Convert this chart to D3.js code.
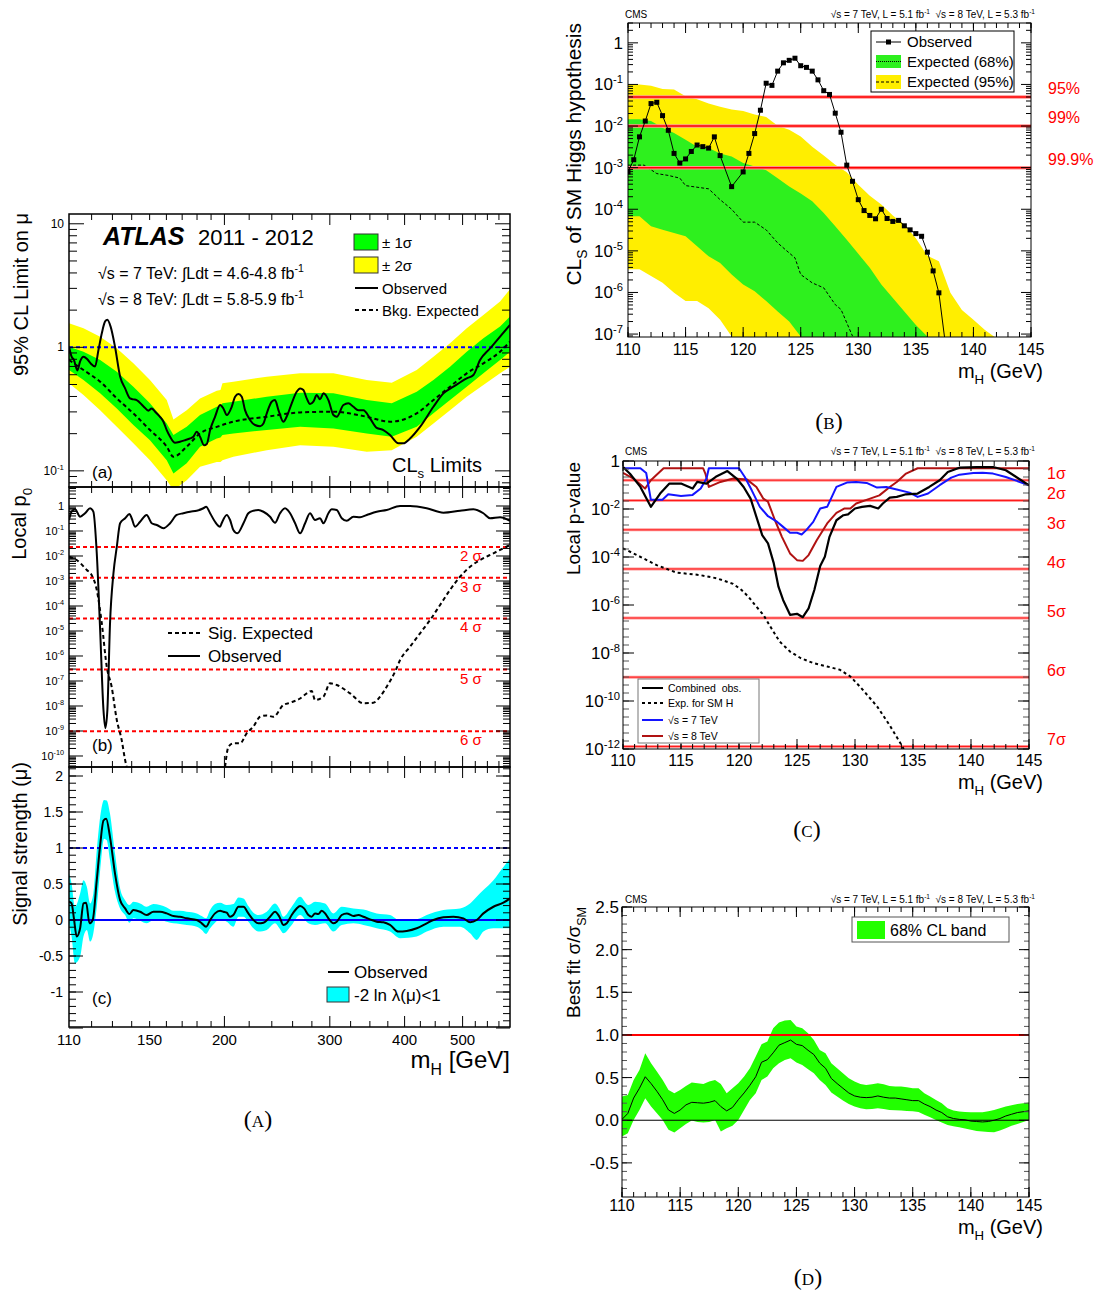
<!DOCTYPE html>
<html>
<head>
<meta charset="utf-8">
<script src="https://cdn.jsdelivr.net/npm/d3@7"></script>
<style>
  body { margin: 0; background: #fff; }
  text { font-family: "Liberation Sans", Arial, Helvetica, sans-serif; white-space: pre; }
  .cap { font-family: "Liberation Serif", "DejaVu Serif", serif; font-variant: small-caps; }
</style>
</head>
<body>
<svg id="fig" width="1099" height="1293"></svg>
<script>

// ---------------- ATLAS (a): 95% CL limit on mu ----------------
var atlasLimMass = [110, 111.1, 112.1, 113.6, 114.8, 116.3, 118.0, 119.6, 121.6, 123.2, 124.8, 126.4, 127.5, 129.1, 131.3, 133.9, 136.5, 139.1, 140.9, 142.7, 146.4, 149.3, 151.2, 153.2, 156.1, 158.2, 160.2, 162.3, 165.4, 168.6, 171.9, 175.3, 177.5, 179.8, 182.1, 184.9, 186.9, 189.3, 192.9, 196.7, 199.2, 201.8, 205.7, 208.4, 211.1, 213.8, 216.5, 220.8, 225.0, 229.4, 232.4, 235.4, 239.9, 243.0, 246.2, 250.9, 254.8, 259.1, 264.1, 267.6, 271.0, 274.5, 278.0, 281.6, 285.3, 288.9, 292.7, 298.4, 304.2, 308.1, 316.1, 322.2, 328.5, 334.8, 341.4, 350.2, 359.3, 368.7, 378.2, 390.5, 398.1, 408.5, 424.5, 446.9, 464.4, 482.6, 508.0, 521.2, 534.7, 555.7, 577.5, 600];
var atlasLimObs = [1.01, 0.84, 0.79, 0.65, 0.77, 0.84, 0.80, 0.74, 0.70, 0.95, 1.30, 1.62, 1.67, 1.47, 1.01, 0.58, 0.465, 0.386, 0.379, 0.374, 0.334, 0.307, 0.320, 0.301, 0.274, 0.250, 0.214, 0.189, 0.169, 0.172, 0.177, 0.183, 0.189, 0.207, 0.189, 0.161, 0.165, 0.214, 0.274, 0.341, 0.320, 0.283, 0.330, 0.398, 0.418, 0.398, 0.310, 0.257, 0.235, 0.230, 0.242, 0.292, 0.363, 0.374, 0.310, 0.250, 0.283, 0.352, 0.437, 0.465, 0.451, 0.386, 0.347, 0.363, 0.411, 0.379, 0.424, 0.374, 0.283, 0.274, 0.341, 0.352, 0.330, 0.310, 0.310, 0.266, 0.223, 0.214, 0.195, 0.167, 0.167, 0.183, 0.227, 0.330, 0.424, 0.480, 0.561, 0.597, 0.789, 0.981, 1.22, 1.52];
var atlasExpMass = [110, 116.3, 124.0, 132.2, 140.9, 150.2, 160.2, 164.4, 173.0, 182.1, 194.2, 207.0, 235.4, 267.6, 304.2, 345.8, 378.2, 419.1, 446.9, 476.4, 508.0, 541.6, 577.5, 600];
var atlasExpMed = [0.789, 0.655, 0.527, 0.386, 0.292, 0.214, 0.157, 0.130, 0.157, 0.201, 0.227, 0.250, 0.274, 0.297, 0.301, 0.274, 0.250, 0.292, 0.374, 0.480, 0.616, 0.742, 0.922, 1.111];
var atlasBandMass = [110, 116.3, 124.0, 132.2, 140.9, 150.2, 160.2, 164.4, 173.0, 182.1, 194.2, 197.0, 198.5, 207.0, 235.4, 267.6, 304.2, 345.8, 380.7, 419.1, 446.9, 476.4, 508.0, 541.6, 577.5, 600];
var atlasBand2Hi = [1.565, 1.426, 1.220, 0.981, 0.742, 0.543, 0.374, 0.261, 0.310, 0.386, 0.445, 0.451, 0.511, 0.527, 0.578, 0.616, 0.616, 0.543, 0.517, 0.655, 0.840, 1.078, 1.426, 1.829, 2.346, 2.953];
var atlasBand2Lo = [0.511, 0.411, 0.310, 0.227, 0.167, 0.122, 0.084, 0.0697, 0.084, 0.108, 0.118, 0.118, 0.122, 0.130, 0.147, 0.161, 0.157, 0.143, 0.147, 0.189, 0.242, 0.310, 0.398, 0.495, 0.616, 0.697];
var atlasBand1Hi = [1.012, 0.922, 0.789, 0.635, 0.480, 0.352, 0.242, 0.195, 0.227, 0.283, 0.330, 0.334, 0.352, 0.363, 0.398, 0.429, 0.424, 0.374, 0.352, 0.437, 0.543, 0.697, 0.922, 1.183, 1.471, 1.773];
var atlasBand1Lo = [0.655, 0.543, 0.424, 0.320, 0.235, 0.177, 0.122, 0.095, 0.115, 0.157, 0.183, 0.186, 0.195, 0.201, 0.214, 0.227, 0.220, 0.201, 0.189, 0.227, 0.292, 0.374, 0.480, 0.616, 0.789, 0.922];

// ---------------- ATLAS (b): local p0 ----------------
var atlasP0Mass = [110, 111.1, 112.6, 114.8, 117.0, 119.3, 120.8, 122.4, 124.0, 125.6, 126.5, 127.5, 128.8, 130.5, 132.2, 133.9, 136.5, 138.8, 140.0, 141.8, 144.6, 148.3, 151.2, 154.2, 158.2, 162.3, 166.5, 170.8, 175.3, 179.8, 184.5, 186.4, 189.3, 192.9, 196.7, 197.9, 201.8, 204.4, 207.0, 210.2, 215.2, 219.3, 223.6, 227.9, 232.4, 238.4, 243.0, 247.7, 252.5, 257.5, 262.5, 267.6, 272.8, 278.0, 283.4, 288.9, 292.7, 298.4, 302.2, 308.1, 314.1, 320.2, 328.5, 337.0, 345.8, 359.3, 373.4, 393.1, 408.5, 435.5, 464.4, 495.1, 521.2, 541.6, 555.7, 577.5, 600];
var atlasP0Obs = [0.275, 0.593, 0.736, 0.374, 0.509, 0.807, 0.593, 0.0128, 1.1e-5, 6.9e-9, 1.3e-9, 6.9e-9, 2.0e-5, 2.0e-3, 0.023, 0.204, 0.324, 0.479, 0.324, 0.148, 0.234, 0.437, 0.204, 0.174, 0.129, 0.204, 0.437, 0.513, 0.589, 0.646, 0.813, 0.933, 0.513, 0.234, 0.148, 0.204, 0.437, 0.275, 0.110, 0.081, 0.204, 0.513, 0.646, 0.692, 0.589, 0.372, 0.214, 0.513, 0.813, 0.513, 0.204, 0.081, 0.204, 0.513, 0.275, 0.324, 0.204, 0.513, 0.741, 0.692, 0.324, 0.257, 0.372, 0.355, 0.437, 0.589, 0.692, 1.0, 1.0, 0.813, 0.537, 0.646, 0.741, 0.513, 0.324, 0.355, 0.257];
var atlasP0ExpMass = [110, 113.3, 117.8, 120.0, 122.4, 124.8, 127.2, 129.6, 132.2, 134.7, 136.5, 137.3, 170, 200.5, 203.1, 207.0, 212.4, 217.9, 223.6, 229.4, 235.4, 241.5, 250.9, 257.5, 267.6, 274.5, 279.8, 283.4, 292.7, 300.3, 308.1, 324.3, 341.4, 354.7, 364.0, 373.4, 385.6, 393.1, 408.5, 424.5, 441.2, 458.5, 476.4, 495.1, 514.6, 534.7, 562.9, 585.0, 600];
var atlasP0Exp = [9.3e-3, 6.9e-3, 2.75e-3, 1.74e-3, 4.4e-4, 2.0e-5, 3.7e-7, 5.9e-8, 2.75e-9, 4.4e-10, 6.9e-11, 3.7e-11, null, 3.7e-11, 2.3e-10, 3.2e-10, 3.2e-10, 8.1e-10, 1.5e-9, 3.7e-9, 4.2e-9, 3.7e-9, 1.1e-8, 1.35e-8, 2.0e-8, 3.2e-8, 4.0e-8, 1.74e-8, 2.35e-8, 8.1e-8, 6.9e-8, 3.2e-8, 1.29e-8, 1.35e-8, 2.35e-8, 5.9e-8, 2.35e-7, 6.9e-7, 2.35e-6, 8.1e-6, 2.75e-5, 1.1e-4, 4.4e-4, 1.48e-3, 3.7e-3, 6.9e-3, 0.0128, 0.0204, 0.0275];
var atlasSigmaP = [0.02275, 1.35e-3, 3.17e-5, 2.87e-7, 9.87e-10];
var atlasSigmaLabels = ["2 σ", "3 σ", "4 σ", "5 σ", "6 σ"];

// ---------------- ATLAS (c): signal strength ----------------
var atlasMuMass = [110, 111.1, 112.1, 113.3, 114.8, 116.3, 117.5, 119.0, 120.5, 122.4, 124.0, 125.6, 126.9, 128.8, 131.3, 133.9, 136.5, 138.8, 140.9, 144.6, 148.3, 152.2, 156.1, 160.2, 164.4, 168.6, 173.0, 179.8, 183.3, 186.4, 189.3, 192.9, 196.7, 199.2, 201.8, 204.4, 207.0, 211.1, 215.2, 219.3, 223.6, 227.9, 232.4, 238.4, 243.0, 247.1, 250.9, 254.2, 259.1, 264.1, 267.6, 271.7, 276.3, 279.8, 283.4, 287.1, 290.8, 294.6, 298.4, 304.2, 308.1, 314.1, 320.2, 328.5, 334.8, 341.4, 350.2, 359.3, 368.7, 378.2, 390.5, 403.3, 419.1, 435.5, 446.9, 464.4, 482.6, 501.5, 514.6, 527.9, 541.6, 562.9, 585.0, 600];
var atlasMuObs = [0.253, 0.230, 0.023, -0.230, -0.115, 0.230, 0.240, -0.046, 0, 0.553, 1.037, 1.382, 1.406, 1.152, 0.645, 0.276, 0.161, 0.083, 0.138, 0.115, 0.069, 0.115, 0.115, 0.092, 0.055, 0.046, 0.023, 0, -0.046, -0.092, 0, 0.092, 0.129, 0.115, 0.101, 0.046, 0.069, 0.184, 0.184, 0.092, 0, -0.046, -0.037, 0.046, 0.115, 0.046, -0.069, -0.046, 0.069, 0.161, 0.194, 0.161, 0.069, 0.046, 0.092, 0.083, 0.129, 0.092, 0.023, -0.046, -0.023, 0.069, 0.092, 0.055, 0.069, 0.046, 0.009, -0.023, -0.032, -0.069, -0.161, -0.152, -0.115, -0.046, 0, 0.037, 0.046, 0.023, -0.032, 0, 0.092, 0.184, 0.240, 0.300];
var atlasMuBandMass = [110, 111.1, 112.6, 114.8, 116.3, 117.8, 119.3, 120.8, 122.4, 124.0, 125.9, 127.2, 128.8, 131.3, 133.9, 136.5, 138.8, 140.9, 144.6, 148.3, 152.2, 156.1, 160.2, 164.4, 168.6, 173.0, 179.8, 183.3, 186.4, 189.3, 192.9, 196.7, 201.8, 207.0, 211.1, 215.2, 219.3, 223.6, 227.9, 235.4, 243.0, 247.1, 250.9, 259.1, 267.6, 276.3, 283.4, 294.6, 304.2, 314.1, 328.5, 341.4, 359.3, 378.2, 393.1, 419.1, 435.5, 464.4, 495.1, 514.6, 527.9, 541.6, 562.9, 585.0, 600];
var atlasMuHi = [0.645, 0.507, 0.184, 0.369, 0.553, 0.461, 0.230, 0.369, 0.968, 1.429, 1.668, 1.659, 1.475, 0.922, 0.438, 0.276, 0.207, 0.253, 0.230, 0.184, 0.221, 0.207, 0.175, 0.129, 0.129, 0.115, 0.092, 0.055, 0.023, 0.138, 0.221, 0.240, 0.207, 0.221, 0.313, 0.300, 0.194, 0.101, 0.069, 0.115, 0.230, 0.161, 0.046, 0.184, 0.323, 0.207, 0.253, 0.230, 0.092, 0.184, 0.161, 0.147, 0.092, 0.069, -0.009, 0.009, 0.069, 0.138, 0.161, 0.230, 0.323, 0.415, 0.553, 0.737, 0.853];
var atlasMuLo = [-0.046, -0.230, -0.599, -0.507, -0.230, -0.138, -0.300, -0.184, 0.184, 0.691, 1.129, 1.106, 0.829, 0.392, 0.161, 0.069, -0.037, 0.023, -0.009, -0.046, 0, 0, -0.023, -0.046, -0.055, -0.069, -0.092, -0.138, -0.194, -0.115, -0.037, 0.009, -0.023, -0.092, 0.046, 0.046, -0.023, -0.115, -0.161, -0.138, -0.046, -0.115, -0.184, -0.069, 0.069, -0.046, -0.069, -0.046, -0.161, -0.069, -0.046, -0.069, -0.115, -0.161, -0.253, -0.230, -0.161, -0.092, -0.092, -0.184, -0.276, -0.161, -0.115, -0.115, -0.115];
var atlasMassTicks = [110, 150, 200, 300, 400, 500];

// ---------------- CMS (B): CLs of SM Higgs ----------------
var cmsClsMass = [110, 110.5, 111, 111.5, 112, 112.5, 113, 113.5, 114, 114.5, 115, 115.5, 116, 116.5, 117, 117.5, 118, 119, 120, 120.5, 121, 121.5, 122, 122.5, 123, 123.5, 124, 124.5, 125, 125.5, 126, 126.5, 127, 127.5, 128, 128.5, 129, 129.5, 130, 130.5, 131, 131.5, 132, 132.5, 133, 133.5, 134, 134.5, 135, 135.5, 136, 136.5, 137, 137.5];
var cmsClsObs = [7.9e-4, 1.55e-3, 5.5e-3, 0.0132, 0.0347, 0.0372, 0.0178, 7.9e-3, 2.2e-3, 1.29e-3, 1.62e-3, 2.45e-3, 3.5e-3, 3.2e-3, 2.95e-3, 5.5e-3, 1.95e-3, 3.5e-4, 7.9e-4, 2.2e-3, 6.6e-3, 0.024, 0.107, 0.095, 0.209, 0.331, 0.38, 0.427, 0.282, 0.257, 0.209, 0.129, 0.0708, 0.0575, 0.0204, 7.1e-3, 1.15e-3, 4.7e-4, 1.7e-4, 9.3e-5, 7.1e-5, 5.9e-5, 1.0e-4, 6.0e-5, 5.1e-5, 5.4e-5, 4.0e-5, 3.2e-5, 2.6e-5, 2.24e-5, 9.3e-6, 3.3e-6, 9.8e-7, 8e-8];
var cmsClsExpMass = [110, 111.4, 112.5, 113.5, 114.5, 115, 117, 118, 119, 120, 121, 122, 123, 124, 124.5, 125, 126, 127, 128, 128.5, 129.5];
var cmsClsExp = [1.15e-3, 1.15e-3, 7.2e-4, 6.5e-4, 5.6e-4, 3.7e-4, 3.1e-4, 1.7e-4, 1.0e-4, 4.9e-5, 4.9e-5, 3.2e-5, 1.55e-5, 8.9e-6, 6.8e-6, 2.7e-6, 1.7e-6, 1.29e-6, 5.1e-7, 3.9e-7, 8.9e-8];
var cmsBandMass = [110, 111, 112, 113, 114, 115, 116, 117, 118, 119, 120, 121, 122, 123, 124, 125, 126, 127, 128, 129, 130, 131, 132, 133, 134, 135, 136, 137, 138, 139, 140, 141, 142];
var cmsBand95Hi = [0.1, 0.1, 0.093, 0.078, 0.076, 0.052, 0.044, 0.035, 0.029, 0.025, 0.023, 0.019, 0.0166, 0.0102, 8.1e-3, 5.6e-3, 3.2e-3, 1.95e-3, 1.17e-3, 7.8e-4, 3.9e-4, 2.1e-4, 1.3e-4, 7.1e-5, 4.3e-5, 2.0e-5, 7.6e-6, 5.6e-6, 9.8e-7, 3.8e-7, 2.2e-7, 1.26e-7, 7.9e-8];
var cmsBand95Lo = [3.6e-6, 3.6e-6, 2.5e-6, 1.7e-6, 9.8e-7, 6.2e-7, 6.2e-7, 4.2e-7, 2.2e-7, 8.7e-8];
var cmsBand68Hi = [0.0145, 0.0145, 0.0132, 9.1e-3, 6.8e-3, 4.7e-3, 3.2e-3, 2.95e-3, 2.2e-3, 1.86e-3, 1.29e-3, 1.07e-3, 8.7e-4, 5.6e-4, 3.5e-4, 2.4e-4, 1.55e-4, 8.1e-5, 3.9e-5, 1.86e-5, 8.5e-6, 3.9e-6, 1.55e-6, 7.4e-7, 3.5e-7, 1.66e-7, 8.7e-8];
var cmsBand68Lo = [6.8e-5, 6.8e-5, 3.9e-5, 3.2e-5, 2.7e-5, 2.24e-5, 1.29e-5, 7.4e-6, 5.1e-6, 2.7e-6, 1.55e-6, 1.07e-6, 6.2e-7, 3.5e-7, 2.0e-7, 8.7e-8];
var cmsClLevels = [0.05, 0.01, 0.001];
var cmsClLabels = ["95%", "99%", "99.9%"];

// ---------------- CMS (C): local p-value ----------------
var cmsPCombMass = [110, 110.6, 111.5, 112.4, 113.2, 114, 115, 116, 116.4, 117.2, 118, 119, 119.8, 120.4, 121, 121.5, 122, 122.5, 123, 123.4, 123.8, 124.4, 125, 125.5, 126, 126.5, 127, 127.4, 127.8, 128.4, 129, 129.4, 130, 130.6, 131.3, 132, 132.4, 133, 133.6, 134.4, 135.4, 136.4, 137.3, 138, 139, 140.5, 141.9, 143, 145];
var cmsPComb = [0.56, 0.295, 0.083, 0.0123, 0.044, 0.115, 0.115, 0.071, 0.135, 0.115, 0.219, 0.38, 0.186, 0.083, 0.027, 4.7e-3, 8.1e-4, 3.7e-4, 5.4e-5, 5.8e-6, 1.62e-6, 3.9e-7, 4.3e-7, 3.1e-7, 7.2e-7, 4.3e-6, 4.2e-5, 1.02e-4, 6.9e-4, 3.4e-3, 5.5e-3, 6.0e-3, 0.0105, 0.0123, 0.0135, 0.0105, 0.017, 0.030, 0.032, 0.041, 0.044, 0.083, 0.158, 0.347, 0.525, 0.56, 0.56, 0.41, 0.098];
var cmsP7Mass = [110, 111.5, 112, 112.4, 113.4, 113.9, 115, 116, 116.7, 117.2, 117.4, 120, 120.5, 121.1, 121.8, 122.5, 123.3, 123.8, 124.4, 125, 125.4, 125.8, 126.4, 127, 127.6, 128, 128.4, 129.3, 130.1, 131, 131.9, 132.7, 133.6, 134.7, 135.4, 136.3, 137.3, 138.3, 139, 140.2, 141, 141.9, 143, 145];
var cmsP7 = [0.5, 0.5, 0.316, 0.0245, 0.0245, 0.041, 0.035, 0.0387, 0.071, 0.185, 0.5, 0.5, 0.216, 0.060, 0.0123, 5.0e-3, 2.9e-3, 1.8e-3, 1.02e-3, 1.02e-3, 8.7e-4, 1.32e-3, 2.9e-3, 0.0105, 0.0123, 0.032, 0.083, 0.126, 0.134, 0.122, 0.078, 0.083, 0.065, 0.048, 0.032, 0.044, 0.098, 0.203, 0.27, 0.317, 0.327, 0.298, 0.216, 0.098];
var cmsP8Mass = [110, 110.9, 111.9, 112.4, 113.5, 116.9, 117.1, 117.4, 118.4, 119.5, 120.7, 121.5, 122.1, 122.5, 123.1, 123.7, 124.4, 125, 125.5, 126, 126.7, 127.6, 128.4, 129.1, 129.6, 130.1, 131.3, 132.1, 133, 133.6, 134.4, 135.4, 145];
var cmsP8 = [0.317, 0.185, 0.071, 0.158, 0.5, 0.5, 0.298, 0.083, 0.134, 0.185, 0.168, 0.083, 0.027, 0.020, 3.4e-3, 6.9e-4, 1.41e-4, 7.4e-5, 6.9e-5, 1.2e-4, 5.0e-4, 2.5e-3, 6.9e-3, 0.0105, 0.0105, 0.017, 0.027, 0.037, 0.083, 0.134, 0.298, 0.5, 0.5];
var cmsPExpMass = [110, 111.2, 112.9, 114.6, 116.6, 118.1, 119.5, 120.2, 120.8, 121.5, 122.1, 122.7, 123.5, 124.4, 125.3, 126.4, 127.6, 128.7, 129.6, 130.4, 131.9, 133, 133.9, 134.2];
var cmsPExp = [2.3e-4, 1.2e-4, 4.6e-5, 2.24e-5, 1.78e-5, 1.29e-5, 7.6e-6, 4.3e-6, 2.24e-6, 8.5e-7, 3.9e-7, 1.26e-7, 3.0e-8, 1.15e-8, 6.2e-9, 3.8e-9, 2.75e-9, 2.0e-9, 1.05e-9, 4.1e-10, 6.0e-11, 9.5e-12, 1.8e-12, 1e-12];
var cmsSigmaP = [0.1587, 0.02275, 1.35e-3, 3.17e-5, 2.87e-7, 9.87e-10, 1.28e-12];
var cmsSigmaLabels = ["1σ", "2σ", "3σ", "4σ", "5σ", "6σ", "7σ"];

// ---------------- CMS (D): best fit sigma/sigma_SM ----------------
var cmsMuMass = [110, 110.5, 111, 111.5, 112, 112.5, 113, 113.5, 114, 114.5, 115, 115.5, 116, 116.5, 117, 117.5, 118, 118.5, 119, 119.5, 120, 120.5, 121, 121.5, 122, 122.5, 123, 123.5, 124, 124.5, 125, 125.5, 126, 126.5, 127, 127.5, 128, 128.5, 129, 129.5, 130, 130.5, 131, 131.5, 132, 132.5, 133, 133.5, 134, 134.5, 135, 135.5, 136, 136.5, 137, 137.5, 138, 138.5, 139, 139.5, 140, 140.5, 141, 141.5, 142, 142.5, 143, 143.5, 144, 144.5, 145];
var cmsMuFit = [0.01, 0.08, 0.26, 0.375, 0.51, 0.43, 0.34, 0.24, 0.12, 0.08, 0.12, 0.18, 0.21, 0.205, 0.20, 0.21, 0.23, 0.16, 0.11, 0.15, 0.24, 0.32, 0.41, 0.51, 0.68, 0.71, 0.79, 0.88, 0.91, 0.94, 0.89, 0.875, 0.82, 0.77, 0.67, 0.61, 0.49, 0.43, 0.375, 0.32, 0.285, 0.27, 0.265, 0.27, 0.285, 0.27, 0.26, 0.26, 0.25, 0.24, 0.23, 0.23, 0.19, 0.16, 0.12, 0.09, 0.04, 0.02, 0.01, 0.005, -0.01, -0.015, -0.02, -0.015, 0.0, 0.02, 0.05, 0.07, 0.09, 0.10, 0.11];
var cmsMuHi = [0.277, 0.297, 0.473, 0.590, 0.785, 0.668, 0.570, 0.473, 0.355, 0.316, 0.355, 0.402, 0.441, 0.434, 0.426, 0.453, 0.473, 0.426, 0.316, 0.375, 0.434, 0.512, 0.609, 0.746, 0.891, 0.922, 1.078, 1.145, 1.168, 1.176, 1.098, 1.078, 1.020, 0.941, 0.824, 0.785, 0.668, 0.609, 0.551, 0.492, 0.453, 0.426, 0.414, 0.422, 0.434, 0.422, 0.402, 0.395, 0.395, 0.387, 0.375, 0.375, 0.316, 0.277, 0.238, 0.199, 0.141, 0.113, 0.102, 0.098, 0.094, 0.094, 0.094, 0.105, 0.121, 0.141, 0.160, 0.176, 0.191, 0.199, 0.207];
var cmsMuLo = [-0.191, -0.152, 0.004, 0.121, 0.258, 0.160, 0.082, 0.004, -0.113, -0.145, -0.094, -0.043, -0.004, -0.020, -0.027, -0.020, 0.004, -0.133, -0.094, -0.066, 0.004, 0.121, 0.238, 0.316, 0.473, 0.512, 0.609, 0.668, 0.707, 0.727, 0.676, 0.648, 0.598, 0.551, 0.473, 0.414, 0.324, 0.277, 0.230, 0.191, 0.160, 0.141, 0.129, 0.133, 0.141, 0.133, 0.121, 0.117, 0.113, 0.109, 0.105, 0.098, 0.063, 0.035, 0.004, -0.027, -0.055, -0.070, -0.082, -0.098, -0.113, -0.125, -0.133, -0.137, -0.141, -0.121, -0.094, -0.066, -0.043, -0.020, 0.004];
var cmsMassTicks = [110, 115, 120, 125, 130, 135, 140, 145];

// =====================================================================

var svg = d3.select("#fig");
var defs = svg.append("defs");

function addClip(id, x0, y0, x1, y1) {
  defs.append("clipPath").attr("id", id).append("rect")
      .attr("x", x0).attr("y", y0).attr("width", x1 - x0).attr("height", y1 - y0);
  return svg.append("g").attr("clip-path", "url(#" + id + ")");
}

function pairs(xs, ys) {
  return xs.map(function(m, i) { return [m, ys[i]]; });
}

function drawLine(g, xs, ys, x, y, color, width, dash, curve) {
  var line = d3.line()
      .defined(function(d) { return d[1] != null; })
      .x(function(d) { return x(d[0]); })
      .y(function(d) { return y(d[1]); });
  if (curve) line.curve(curve);
  return g.append("path").datum(pairs(xs, ys))
      .attr("fill", "none").attr("stroke", color).attr("stroke-width", width)
      .attr("stroke-dasharray", dash || null).attr("stroke-linejoin", "round")
      .attr("d", line);
}

// lower edge missing -> band runs down to the bottom of the frame
function drawBand(g, xs, lo, hi, x, y, fill, curve) {
  var floor = y.range()[0] + 3;
  var pts = xs.map(function(m, i) { return {m: m, lo: lo[i], hi: hi[i]}; })
      .filter(function(d) { return d.hi != null; });
  var area = d3.area()
      .x(function(d) { return x(d.m); })
      .y0(function(d) { return d.lo == null ? floor : y(d.lo); })
      .y1(function(d) { return y(d.hi); });
  if (curve) area.curve(curve);
  g.append("path").datum(pts).attr("fill", fill).attr("stroke", "none").attr("d", area);
}

function hLine(g, x0, x1, yv, color, width, dash) {
  g.append("line").attr("x1", x0).attr("x2", x1).attr("y1", yv).attr("y2", yv)
      .attr("stroke", color).attr("stroke-width", width).attr("stroke-dasharray", dash || null);
}

function frame(x0, y0, x1, y1, w) {
  svg.append("rect").attr("x", x0).attr("y", y0).attr("width", x1 - x0).attr("height", y1 - y0)
      .attr("fill", "none").attr("stroke", "#000").attr("stroke-width", w || 1);
}

// ROOT style ticks on both sides
function ticksX(x, vals, top, bottom, len, color) {
  var d = vals.map(function(v) {
    var px = x(v);
    return "M" + px + "," + bottom + "v" + (-len) + "M" + px + "," + top + "v" + len;
  }).join("");
  svg.append("path").attr("d", d).attr("stroke", color || "#000").attr("stroke-width", 1).attr("fill", "none");
}

function ticksY(y, vals, left, right, len, color) {
  var d = vals.map(function(v) {
    var py = y(v);
    return "M" + left + "," + py + "h" + len + "M" + right + "," + py + "h" + (-len);
  }).join("");
  svg.append("path").attr("d", d).attr("stroke", color || "#000").attr("stroke-width", 1).attr("fill", "none");
}

function logTicks(scale) {
  var dom = scale.domain(), major = [], minor = [];
  for (var e = Math.floor(Math.log10(dom[0])); e <= Math.ceil(Math.log10(dom[1])); e++) {
    for (var k = 1; k < 10; k++) {
      var v = k * Math.pow(10, e);
      if (v < dom[0] || v > dom[1]) continue;
      (k === 1 ? major : minor).push(v);
    }
  }
  return {major: major, minor: minor};
}

// text with sub/superscript pieces: [["text"], ["sup", "sup"], ["sub", "sub"]]
function rich(g, x, y, size, parts, anchor, fill) {
  var t = g.append("text").attr("x", x).attr("y", y)
      .attr("font-size", size).attr("text-anchor", anchor || "start").attr("fill", fill || "#000");
  var shift = 0;
  parts.forEach(function(p) {
    var off = p[1] === "sup" ? -0.42 * size : (p[1] === "sub" ? 0.3 * size : 0);
    t.append("tspan").attr("dy", off - shift)
        .attr("font-size", p[1] ? 0.66 * size : size).text(p[0]);
    shift = off;
  });
  return t;
}

function yTitle(x, yTop, size, parts) {
  var g = svg.append("g").attr("transform", "translate(" + x + "," + yTop + ") rotate(-90)");
  rich(g, 0, 0, size, parts, "end");
}

function powLabel(g, x, y, v, size) {
  var e = Math.round(Math.log10(v));
  if (e === 0) return rich(g, x, y, size, [["1"]], "end");
  if (e === 1) return rich(g, x, y, size, [["10"]], "end");
  return rich(g, x, y, size, [["10"], [String(e), "sup"]], "end");
}

// =====================================================================
// ATLAS column

var xA = d3.scaleLog().domain([110, 600]).range([69, 510]);
var yLim = d3.scaleLog().domain([0.074, 12]).range([487, 214]);
var yP0 = d3.scaleLog().domain([3.63e-11, 5.75]).range([767, 487]);
var yMu = d3.scaleLinear().domain([-1.486, 2.125]).range([1027, 767]);

var atlasMajorX = [200, 300, 400, 500];
var atlasMinorX = d3.range(120, 200, 10).concat([220, 240, 260, 280, 325, 350, 375, 425, 450, 475, 525, 550, 575]);

// (a) limit
var gA = addClip("clipA", 69, 214, 510, 487);
drawBand(gA, atlasBandMass, atlasBand2Lo, atlasBand2Hi, xA, yLim, "#ffff00");
drawBand(gA, atlasBandMass, atlasBand1Lo, atlasBand1Hi, xA, yLim, "#00ff00");
hLine(gA, 69, 510, yLim(1), "#0000ff", 2, "4,3");
drawLine(gA, atlasExpMass, atlasExpMed, xA, yLim, "#000", 2, "4,3", d3.curveMonotoneX);
drawLine(gA, atlasLimMass, atlasLimObs, xA, yLim, "#000", 2, null, d3.curveMonotoneX);

var ltA = logTicks(yLim);
ticksY(yLim, ltA.major, 69, 510, 15);
ticksY(yLim, ltA.minor, 69, 510, 8);
[10, 1, 0.1].forEach(function(v) { powLabel(svg, 64, yLim(v) + 4, v, 12); });

// (b) local p0
var gB = addClip("clipB", 69, 487, 510, 767);
atlasSigmaP.forEach(function(p) { hLine(gB, 69, 510, yP0(p), "#ff0000", 2, "4,3"); });
drawLine(gB, atlasP0ExpMass, atlasP0Exp, xA, yP0, "#000", 2, "4,3", d3.curveMonotoneX);
drawLine(gB, atlasP0Mass, atlasP0Obs, xA, yP0, "#000", 2, null, d3.curveMonotoneX);

var ltB = logTicks(yP0);
ticksY(yP0, ltB.major, 69, 510, 14);
ticksY(yP0, ltB.minor, 69, 510, 7);
ltB.major.filter(function(v) { return v <= 1; }).forEach(function(v) { powLabel(svg, 64, yP0(v) + 4, v, 11); });
atlasSigmaP.forEach(function(p, i) {
  svg.append("text").attr("x", 460).attr("y", yP0(p) + 14).attr("font-size", 15)
      .attr("fill", "#ff0000").text(atlasSigmaLabels[i]);
});

// (c) signal strength
var gC = addClip("clipC", 69, 767, 510, 1027);
drawBand(gC, atlasMuBandMass, atlasMuLo, atlasMuHi, xA, yMu, "#00ffff", d3.curveMonotoneX);
hLine(gC, 69, 510, yMu(1), "#0000ff", 2, "4,3");
hLine(gC, 69, 510, yMu(0), "#0000ff", 2);
drawLine(gC, atlasMuMass, atlasMuObs, xA, yMu, "#000", 2, null, d3.curveMonotoneX);

ticksY(yMu, d3.range(-1.5, 2.01, 0.5), 69, 510, 14);
ticksY(yMu, d3.range(-1.4, 2.11, 0.1), 69, 510, 7);
[-1, -0.5, 0, 0.5, 1, 1.5, 2].forEach(function(v) {
  svg.append("text").attr("x", 63).attr("y", yMu(v) + 5).attr("font-size", 14)
      .attr("text-anchor", "end").text(String(v));
});

// shared x ticks and frames for the three pads
[[214, 487], [487, 767], [767, 1027]].forEach(function(p) {
  ticksX(xA, atlasMajorX, p[0], p[1], 11);
  ticksX(xA, atlasMinorX, p[0], p[1], 6);
  frame(69, p[0], 510, p[1], 1.5);
});
atlasMassTicks.forEach(function(v) {
  svg.append("text").attr("x", xA(v)).attr("y", 1045).attr("font-size", 15)
      .attr("text-anchor", "middle").text(String(v));
});
rich(svg, 510, 1068, 24, [["m"], ["H", "sub"], [" [GeV]"]], "end");

yTitle(28, 213, 20, [["95% CL Limit on μ"]]);
yTitle(26, 488, 20, [["Local p"], ["0", "sub"]]);
yTitle(27, 762, 20, [["Signal strength (μ)"]]);

// (a) annotations and legend
svg.append("text").attr("x", 103).attr("y", 245).attr("font-size", 25)
    .attr("font-weight", "bold").attr("font-style", "italic").text("ATLAS");
svg.append("text").attr("x", 198).attr("y", 245).attr("font-size", 22).text("2011 - 2012");
rich(svg, 98, 279, 16, [["√s = 7 TeV: ∫Ldt = 4.6-4.8 fb"], ["-1", "sup"]]);
rich(svg, 98, 305, 16, [["√s = 8 TeV: ∫Ldt = 5.8-5.9 fb"], ["-1", "sup"]]);
svg.append("rect").attr("x", 354).attr("y", 234).attr("width", 24).attr("height", 16)
    .attr("fill", "#00ff00").attr("stroke", "#333");
svg.append("rect").attr("x", 354).attr("y", 257).attr("width", 24).attr("height", 16)
    .attr("fill", "#ffff00").attr("stroke", "#333");
hLine(svg, 355, 378, 288, "#000", 2);
hLine(svg, 355, 378, 310, "#000", 2, "4,3");
[["± 1σ", 248], ["± 2σ", 271], ["Observed", 294], ["Bkg. Expected", 316]].forEach(function(d) {
  svg.append("text").attr("x", 382).attr("y", d[1]).attr("font-size", 15).text(d[0]);
});
svg.append("text").attr("x", 92).attr("y", 478).attr("font-size", 17).text("(a)");
rich(svg, 392, 472, 20, [["CL"], ["s", "sub"], [" Limits"]]);

// (b) legend
hLine(svg, 168, 200, 633, "#000", 2, "4,3");
hLine(svg, 168, 200, 656, "#000", 2);
svg.append("text").attr("x", 208).attr("y", 639).attr("font-size", 17).text("Sig. Expected");
svg.append("text").attr("x", 208).attr("y", 662).attr("font-size", 17).text("Observed");
svg.append("text").attr("x", 92).attr("y", 751).attr("font-size", 17).text("(b)");

// (c) legend
hLine(svg, 328, 349, 972, "#000", 2);
svg.append("rect").attr("x", 327).attr("y", 987).attr("width", 22).attr("height", 15)
    .attr("fill", "#00ffff").attr("stroke", "#333");
svg.append("text").attr("x", 354).attr("y", 978).attr("font-size", 17).text("Observed");
svg.append("text").attr("x", 354).attr("y", 1001).attr("font-size", 17).text("-2 ln λ(μ)<1");
svg.append("text").attr("x", 92).attr("y", 1004).attr("font-size", 17).text("(c)");

// =====================================================================
// CMS column

function cmsHeader(yb) {
  svg.append("text").attr("x", 625).attr("y", yb).attr("font-size", 10).text("CMS");
  rich(svg, 1035, yb, 10, [["√s = 7 TeV, L = 5.1 fb"], ["-1", "sup"],
      ["  √s = 8 TeV, L = 5.3 fb"], ["-1", "sup"]], "end");
}

function cmsXAxis(x, top, bottom, labelY, titleY) {
  ticksX(x, d3.range(110, 145.1, 1), top, bottom, 5);
  ticksX(x, cmsMassTicks, top, bottom, 10);
  cmsMassTicks.forEach(function(v) {
    svg.append("text").attr("x", x(v)).attr("y", labelY).attr("font-size", 16)
        .attr("text-anchor", "middle").text(String(v));
  });
  rich(svg, 1043, titleY, 20, [["m"], ["H", "sub"], [" (GeV)"]], "end");
}

// (B) CLs
var xB = d3.scaleLinear().domain([110, 145]).range([628, 1031]);
var yB = d3.scaleLog().domain([8.5e-8, 3.0]).range([337, 23]);
var gBB = addClip("clipBB", 628, 23, 1031, 337);
drawBand(gBB, cmsBandMass, cmsBand95Lo, cmsBand95Hi, xB, yB, "#ffee00");
drawBand(gBB, cmsBandMass, cmsBand68Lo, cmsBand68Hi, xB, yB, "#2ef01e");
drawLine(gBB, cmsClsExpMass, cmsClsExp, xB, yB, "#000", 1, "3,2");
cmsClLevels.forEach(function(v) {
  hLine(gBB, 628, 1031, yB(v), "#ff9090", 3.5);
  hLine(gBB, 628, 1031, yB(v), "#ff0000", 1.5);
});
drawLine(gBB, cmsClsMass, cmsClsObs, xB, yB, "#000", 1);
gBB.selectAll(".mk").data(pairs(cmsClsMass, cmsClsObs).filter(function(d) { return d[1] >= 1e-7; }))
  .enter().append("rect")
    .attr("x", function(d) { return xB(d[0]) - 2.5; })
    .attr("y", function(d) { return yB(d[1]) - 2.5; })
    .attr("width", 5).attr("height", 5).attr("fill", "#000");

var ltCB = logTicks(yB);
ticksY(yB, ltCB.major, 628, 1031, 10);
ticksY(yB, ltCB.minor, 628, 1031, 5);
ltCB.major.filter(function(v) { return v <= 1; }).forEach(function(v) { powLabel(svg, 623, yB(v) + 6, v, 17); });
frame(628, 23, 1031, 337, 1);
cmsXAxis(xB, 23, 337, 355, 378);
cmsClLevels.forEach(function(v, i) {
  svg.append("text").attr("x", 1048).attr("y", yB(v) - 3).attr("font-size", 16)
      .attr("fill", "#ff0000").text(cmsClLabels[i]);
});
yTitle(581, 23, 21, [["CL"], ["S", "sub"], [" of SM Higgs hypothesis"]]);
cmsHeader(18);

// legend (B)
svg.append("rect").attr("x", 871).attr("y", 31).attr("width", 143).attr("height", 61)
    .attr("fill", "#fff").attr("stroke", "#000");
hLine(svg, 876, 901, 42, "#000", 1);
svg.append("rect").attr("x", 886).attr("y", 39.5).attr("width", 5).attr("height", 5).attr("fill", "#000");
svg.append("rect").attr("x", 876).attr("y", 55).attr("width", 25).attr("height", 13).attr("fill", "#2ef01e");
hLine(svg, 876, 901, 61.5, "#000", 1, "1,1");
svg.append("rect").attr("x", 876).attr("y", 75).attr("width", 25).attr("height", 14).attr("fill", "#ffee00");
hLine(svg, 876, 901, 82, "#000", 1, "3,2");
[["Observed", 47], ["Expected (68%)", 67], ["Expected (95%)", 87]].forEach(function(d) {
  svg.append("text").attr("x", 907).attr("y", d[1]).attr("font-size", 15).text(d[0]);
});

// (C) local p-value
var xC = d3.scaleLinear().domain([110, 145]).range([623, 1029]);
var yC = d3.scaleLog().domain([1e-12, 1]).range([749, 461]);
var gCC = addClip("clipCC", 623, 461, 1029, 749);
cmsSigmaP.forEach(function(p) {
  hLine(gCC, 623, 1029, yC(p), "#ff9a9a", 3);
  hLine(gCC, 623, 1029, yC(p), "#ff1010", 1);
});
drawLine(gCC, cmsPExpMass, cmsPExp, xC, yC, "#000", 2, "3,3");
drawLine(gCC, cmsP8Mass, cmsP8, xC, yC, "#b01212", 2);
drawLine(gCC, cmsP7Mass, cmsP7, xC, yC, "#1414ff", 2);
drawLine(gCC, cmsPCombMass, cmsPComb, xC, yC, "#000", 2.2);

var cExpMinor = d3.range(-12, 0.01, 1 / 3).map(function(e) { return Math.pow(10, e); });
var cExpMajor = d3.range(-12, 0.01, 2).map(function(e) { return Math.pow(10, e); });
ticksY(yC, cExpMinor, 623, 1029, 6, "#555");
ticksY(yC, cExpMajor, 623, 1029, 11);
cExpMajor.forEach(function(v) { powLabel(svg, 620, yC(v) + 6, v, 17); });
frame(623, 461, 1029, 749, 1);
cmsXAxis(xC, 461, 749, 766, 789);
cmsSigmaP.forEach(function(p, i) {
  svg.append("text").attr("x", 1047).attr("y", yC(p) - 1).attr("font-size", 16)
      .attr("fill", "#ff0000").text(cmsSigmaLabels[i]);
});
yTitle(580, 462, 19, [["Local p-value"]]);
cmsHeader(455);

// legend (C)
svg.append("rect").attr("x", 638).attr("y", 679).attr("width", 121).attr("height", 64)
    .attr("fill", "#fff").attr("stroke", "#777");
hLine(svg, 642, 663, 688, "#000", 2);
hLine(svg, 642, 663, 703, "#000", 2, "3,3");
hLine(svg, 642, 663, 720, "#1414ff", 2);
hLine(svg, 642, 663, 736, "#b01212", 2);
[["Combined  obs.", 692], ["Exp. for SM H", 707], ["√s = 7 TeV", 724], ["√s = 8 TeV", 740]].forEach(function(d) {
  svg.append("text").attr("x", 668).attr("y", d[1]).attr("font-size", 10.5).text(d[0]);
});

// (D) best fit
var xD = d3.scaleLinear().domain([110, 145]).range([622, 1029]);
var yD = d3.scaleLinear().domain([-0.9, 2.5]).range([1197, 907]);
var gDD = addClip("clipDD", 622, 907, 1029, 1197);
drawBand(gDD, cmsMuMass, cmsMuLo, cmsMuHi, xD, yD, "#22ff00");
hLine(gDD, 622, 1029, yD(1), "#ff0000", 2);
hLine(gDD, 622, 1029, yD(0), "#000", 1);
drawLine(gDD, cmsMuMass, cmsMuFit, xD, yD, "#000", 1);

ticksY(yD, d3.range(-0.8, 2.51, 0.1), 622, 1029, 5, "#555");
ticksY(yD, d3.range(-0.5, 2.51, 0.5), 622, 1029, 10);
d3.range(-0.5, 2.51, 0.5).forEach(function(v) {
  svg.append("text").attr("x", 619).attr("y", yD(v) + 6).attr("font-size", 17)
      .attr("text-anchor", "end").text(v.toFixed(1));
});
frame(622, 907, 1029, 1197, 1);
cmsXAxis(xD, 907, 1197, 1211, 1234);
yTitle(580, 907, 19, [["Best fit σ/σ"], ["SM", "sub"]]);
cmsHeader(903);

svg.append("rect").attr("x", 852).attr("y", 917).attr("width", 157).attr("height", 25)
    .attr("fill", "#fff").attr("stroke", "#555");
svg.append("rect").attr("x", 857).attr("y", 921).attr("width", 28).attr("height", 18).attr("fill", "#22ff00");
svg.append("text").attr("x", 890).attr("y", 936).attr("font-size", 16).text("68% CL band");

// sub-figure captions
[["(a)", 258, 1127], ["(b)", 829, 429], ["(c)", 807, 837], ["(d)", 808, 1285]].forEach(function(d) {
  svg.append("text").attr("class", "cap").attr("x", d[1]).attr("y", d[2])
      .attr("font-size", 24).attr("text-anchor", "middle").text(d[0]);
});

</script>
</body>
</html>
